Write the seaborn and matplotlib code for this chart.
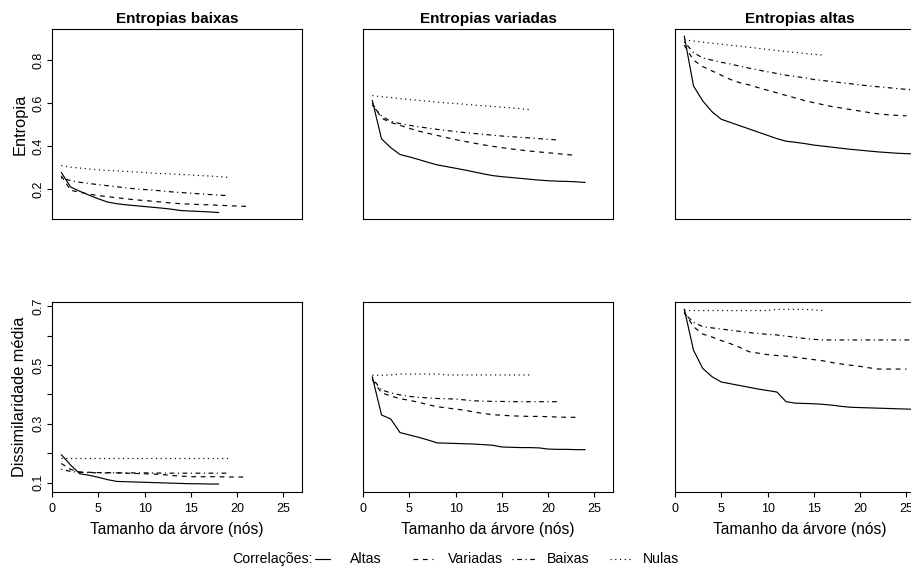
import pandas as pd
import matplotlib
matplotlib.use("Agg")
import matplotlib.pyplot as plt
from matplotlib.lines import Line2D
import seaborn as sns

# ------------------------------
# Data (value per tree size, starting at 1 node)
# ------------------------------

correlations = ["Altas", "Variadas", "Baixas", "Nulas"]
entropy_groups = ["Entropias baixas", "Entropias variadas", "Entropias altas"]

# Entropia - entropias baixas
ent_baixas_altas = [0.278, 0.21, 0.19, 0.172, 0.155, 0.14, 0.132, 0.127, 0.123, 0.119,
                    0.115, 0.111, 0.106, 0.1, 0.098, 0.096, 0.094, 0.091]
ent_baixas_variadas = [0.262, 0.195, 0.185, 0.177, 0.17, 0.165, 0.16, 0.155, 0.15, 0.147,
                       0.143, 0.139, 0.135, 0.132, 0.13, 0.128, 0.127, 0.125, 0.123, 0.121, 0.12]
ent_baixas_baixas = [0.252, 0.24, 0.232, 0.226, 0.221, 0.216, 0.211, 0.206, 0.201, 0.198,
                     0.195, 0.191, 0.187, 0.184, 0.181, 0.178, 0.175, 0.172, 0.17]
ent_baixas_nulas = [0.31, 0.302, 0.298, 0.294, 0.29, 0.287, 0.285, 0.283, 0.28, 0.277,
                    0.274, 0.272, 0.27, 0.268, 0.266, 0.263, 0.261, 0.258, 0.255]

# Entropia - entropias variadas
ent_variadas_altas = [0.613, 0.434, 0.393, 0.361, 0.35, 0.338, 0.325, 0.313, 0.305, 0.297,
                      0.289, 0.28, 0.271, 0.263, 0.258, 0.254, 0.25, 0.246, 0.242, 0.239,
                      0.237, 0.236, 0.234, 0.231]
ent_variadas_variadas = [0.6, 0.53, 0.51, 0.497, 0.483, 0.47, 0.46, 0.45, 0.44, 0.43,
                         0.422, 0.414, 0.406, 0.399, 0.393, 0.387, 0.382, 0.377, 0.373, 0.369,
                         0.365, 0.361, 0.357]
ent_variadas_baixas = [0.59, 0.54, 0.515, 0.505, 0.497, 0.49, 0.484, 0.478, 0.473, 0.468,
                       0.463, 0.459, 0.455, 0.451, 0.447, 0.444, 0.441, 0.438, 0.435, 0.432, 0.429]
ent_variadas_nulas = [0.635, 0.63, 0.626, 0.621, 0.617, 0.613, 0.609, 0.605, 0.601, 0.598,
                      0.595, 0.591, 0.588, 0.585, 0.581, 0.578, 0.574, 0.57]

# Entropia - entropias altas
ent_altas_altas = [0.912, 0.68, 0.61, 0.56, 0.525, 0.51, 0.495, 0.48, 0.465, 0.45,
                   0.435, 0.423, 0.418, 0.412, 0.405, 0.4, 0.395, 0.39, 0.385, 0.381,
                   0.377, 0.373, 0.37, 0.367, 0.365, 0.364]
ent_altas_variadas = [0.87, 0.8, 0.77, 0.75, 0.73, 0.71, 0.695, 0.685, 0.672, 0.66,
                      0.648, 0.636, 0.624, 0.612, 0.602, 0.593, 0.584, 0.577, 0.57, 0.563,
                      0.556, 0.55, 0.546, 0.543, 0.541]
ent_altas_baixas = [0.885, 0.835, 0.81, 0.8, 0.79, 0.782, 0.772, 0.763, 0.754, 0.746,
                    0.738, 0.73, 0.724, 0.718, 0.71, 0.705, 0.7, 0.695, 0.69, 0.685,
                    0.68, 0.676, 0.672, 0.668, 0.664, 0.66]
ent_altas_nulas = [0.895, 0.889, 0.884, 0.879, 0.874, 0.869, 0.865, 0.86, 0.855, 0.85,
                   0.845, 0.84, 0.836, 0.831, 0.827, 0.823]

# Dissimilaridade media - entropias baixas
dis_baixas_altas = [0.195, 0.16, 0.13, 0.125, 0.118, 0.11, 0.104, 0.103, 0.102, 0.101,
                    0.1, 0.099, 0.098, 0.097, 0.096, 0.096, 0.095, 0.095]
dis_baixas_variadas = [0.165, 0.145, 0.136, 0.135, 0.134, 0.134, 0.133, 0.132, 0.131, 0.13,
                       0.129, 0.127, 0.124, 0.122, 0.12, 0.12, 0.12, 0.12, 0.119, 0.119, 0.119]
dis_baixas_baixas = [0.145, 0.138, 0.135, 0.134, 0.133, 0.133, 0.133, 0.133, 0.133, 0.133,
                     0.133, 0.132, 0.132, 0.132, 0.132, 0.132, 0.132, 0.132, 0.132]
dis_baixas_nulas = [0.183, 0.183, 0.183, 0.183, 0.183, 0.183, 0.183, 0.183, 0.183, 0.183,
                    0.183, 0.183, 0.183, 0.183, 0.183, 0.183, 0.183, 0.183, 0.183]

# Dissimilaridade media - entropias variadas
dis_variadas_altas = [0.46, 0.33, 0.316, 0.27, 0.262, 0.254, 0.245, 0.235, 0.234, 0.233,
                      0.232, 0.231, 0.229, 0.227, 0.221, 0.22, 0.219, 0.219, 0.218, 0.214,
                      0.213, 0.213, 0.212, 0.212]
dis_variadas_variadas = [0.45, 0.405, 0.395, 0.385, 0.38, 0.373, 0.365, 0.358, 0.354, 0.35,
                         0.346, 0.34, 0.335, 0.331, 0.329, 0.327, 0.326, 0.325, 0.325, 0.324,
                         0.323, 0.322, 0.322]
dis_variadas_baixas = [0.455, 0.415, 0.405, 0.398, 0.393, 0.39, 0.388, 0.386, 0.385, 0.384,
                       0.381, 0.378, 0.377, 0.376, 0.376, 0.375, 0.375, 0.375, 0.375, 0.375, 0.375]
dis_variadas_nulas = [0.465, 0.465, 0.466, 0.469, 0.469, 0.469, 0.469, 0.469, 0.466, 0.466,
                      0.466, 0.466, 0.466, 0.466, 0.466, 0.466, 0.466, 0.466]

# Dissimilaridade media - entropias altas
dis_altas_altas = [0.69, 0.55, 0.488, 0.46, 0.442, 0.436, 0.43, 0.424, 0.418, 0.413,
                   0.408, 0.375, 0.37, 0.369, 0.368, 0.366, 0.363, 0.359, 0.356, 0.355,
                   0.354, 0.353, 0.352, 0.351, 0.35, 0.349]
dis_altas_variadas = [0.68, 0.63, 0.605, 0.595, 0.583, 0.572, 0.56, 0.545, 0.54, 0.535,
                      0.532, 0.53, 0.526, 0.522, 0.518, 0.514, 0.508, 0.503, 0.499, 0.495,
                      0.49, 0.486, 0.486, 0.486, 0.486]
dis_altas_baixas = [0.675, 0.645, 0.63, 0.626, 0.622, 0.618, 0.614, 0.61, 0.607, 0.604,
                    0.602, 0.598, 0.594, 0.59, 0.587, 0.585, 0.585, 0.585, 0.585, 0.585,
                    0.585, 0.585, 0.585, 0.585, 0.585, 0.585]
dis_altas_nulas = [0.685, 0.685, 0.685, 0.685, 0.685, 0.685, 0.685, 0.685, 0.685, 0.685,
                   0.689, 0.689, 0.689, 0.689, 0.687, 0.685]

entropy_series = [
    [ent_baixas_altas, ent_baixas_variadas, ent_baixas_baixas, ent_baixas_nulas],
    [ent_variadas_altas, ent_variadas_variadas, ent_variadas_baixas, ent_variadas_nulas],
    [ent_altas_altas, ent_altas_variadas, ent_altas_baixas, ent_altas_nulas],
]
dissim_series = [
    [dis_baixas_altas, dis_baixas_variadas, dis_baixas_baixas, dis_baixas_nulas],
    [dis_variadas_altas, dis_variadas_variadas, dis_variadas_baixas, dis_variadas_nulas],
    [dis_altas_altas, dis_altas_variadas, dis_altas_baixas, dis_altas_nulas],
]

# long table for seaborn
rows = []
for metric, series in [("Entropia", entropy_series), ("Dissimilaridade média", dissim_series)]:
    for group, group_series in zip(entropy_groups, series):
        for corr, values in zip(correlations, group_series):
            for size, v in enumerate(values, start=1):
                rows.append({"metric": metric, "group": group, "corr": corr,
                             "size": size, "value": v})
df = pd.DataFrame(rows)

# ------------------------------
# Plot
# ------------------------------
sns.set_style("ticks")
plt.rcParams['font.family'] = ['Liberation Sans', 'DejaVu Sans']
plt.rcParams['text.color'] = 'black'
plt.rcParams['axes.labelcolor'] = 'black'
plt.rcParams['xtick.color'] = 'black'
plt.rcParams['ytick.color'] = 'black'

dash_map = {"Altas": "", "Variadas": (4, 4), "Baixas": (1, 3, 4, 3), "Nulas": (1, 3)}

fig = plt.figure(figsize=(9.12, 5.69), dpi=100)
W, H = 912, 569
lefts = [52, 363, 675]
tops = [29, 302]
aw, ah = 250, 190

ylims = {"Entropia": (0.061, 0.945), "Dissimilaridade média": (0.068, 0.714)}

for r, metric in enumerate(["Entropia", "Dissimilaridade média"]):
    for c, group in enumerate(entropy_groups):
        ax = fig.add_axes([lefts[c] / W, 1 - (tops[r] + ah) / H, aw / W, ah / H])
        sub = df[(df["metric"] == metric) & (df["group"] == group)]
        sns.lineplot(data=sub, x="size", y="value", style="corr", style_order=correlations,
                     dashes=dash_map, color="black", linewidth=0.85, errorbar=None,
                     legend=False, ax=ax)
        ax.set_xlim(0, 27)
        ax.set_ylim(*ylims[metric])
        for s in ax.spines.values():
            s.set_visible(True)
            s.set_linewidth(0.8)
            s.set_color("black")
        ax.tick_params(direction="out", length=3.6, width=0.8, colors="black",
                       labelsize=9)
        ax.set_xlabel("")
        ax.set_ylabel("")

        if r == 0:
            ax.set_title(group, fontsize=11, fontweight="bold", pad=4.5)
            ax.tick_params(axis="x", bottom=False, labelbottom=False)
        else:
            ax.set_xticks([0, 5, 10, 15, 20, 25])
            ax.tick_params(axis="x", pad=4.5)
            ax.set_xlabel("Tamanho da árvore (nós)", fontsize=11.2, labelpad=5)

        if c == 0:
            if r == 0:
                ax.set_yticks([0.2, 0.4, 0.6, 0.8])
                ax.set_yticklabels(["0.2", "0.4", "0.6", "0.8"])
            else:
                ax.set_yticks([0.1, 0.2, 0.3, 0.4, 0.5, 0.6, 0.7])
                ax.set_yticklabels(["0.1", "", "0.3", "", "0.5", "", "0.7"])
            ax.tick_params(axis="y", pad=1.5)
            for lab in ax.get_yticklabels():
                lab.set_rotation(90)
                lab.set_va("center")
            ax.set_ylabel(metric, fontsize=11.8, labelpad=4)
        else:
            ax.tick_params(axis="y", left=False, labelleft=False)

# legend along the bottom
ly = 1 - 559 / H
fig.text(232 / W, ly, "Correlações:", fontsize=10.2, va="center", ha="left")
legend_items = [("Altas", 315, 330, 350), ("Variadas", 413, 433, 448),
                ("Baixas", 512, 535, 547), ("Nulas", 610, 632, 643)]
for name, x0, x1, xt in legend_items:
    ln = Line2D([x0 / W, x1 / W], [ly, ly], transform=fig.transFigure,
                color="black", linewidth=0.85)
    if dash_map[name]:
        ln.set_dashes(dash_map[name])
    fig.add_artist(ln)
    fig.text(xt / W, ly, name, fontsize=10.2, va="center", ha="left")

plt.savefig("out.png", dpi=100)
